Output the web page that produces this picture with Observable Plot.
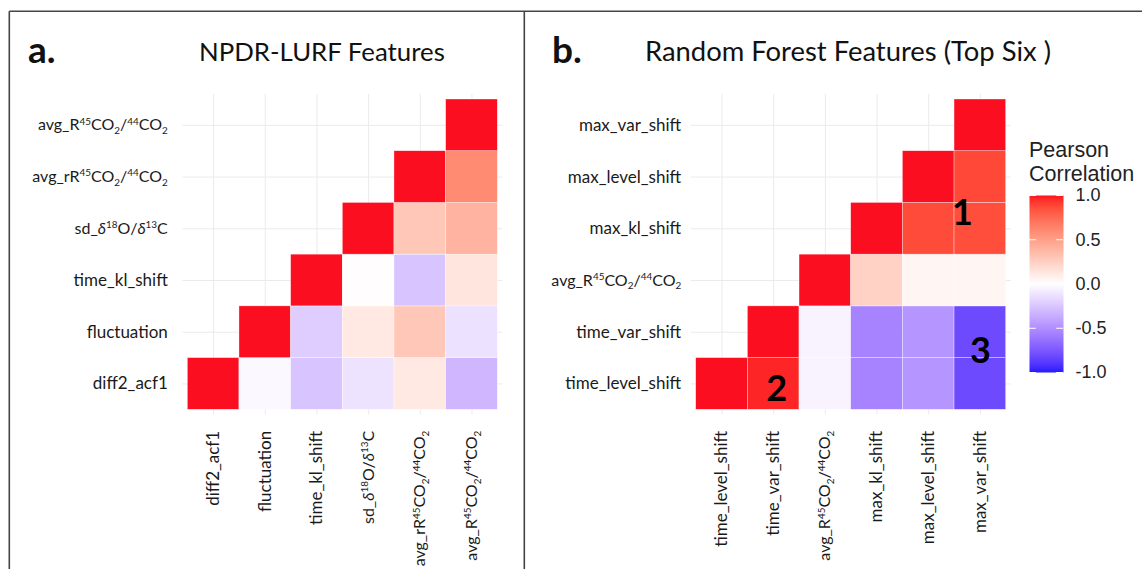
<!DOCTYPE html>
<html>
<head>
<meta charset="utf-8">
<script src="https://cdn.jsdelivr.net/npm/d3@7"></script>
<script src="https://cdn.jsdelivr.net/npm/@observablehq/plot@0.6"></script>
<style>
  html, body { margin: 0; padding: 0; background: #fff; }
  #page { position: relative; width: 1142px; height: 569px; overflow: hidden; background: #fff; }
  .layer { position: absolute; top: 0; }
  .layer svg { overflow: visible; background: transparent; }
  #overlay { position: absolute; left: 0; top: 0; z-index: 2; pointer-events: none; }
</style>
</head>
<body>
<div id="page">
  <div id="panelA" class="layer" style="left:0px;width:524px;"></div>
  <div id="panelB" class="layer" style="left:524px;width:500px;"></div>
  <div id="legend" class="layer" style="left:1000px;top:180px;width:142px;"></div>
  <svg id="overlay" width="1142" height="569" font-family="Lato, 'Open Sans', sans-serif">
    <g stroke="#444" stroke-width="1.6" fill="none">
      <line x1="9.3" y1="11.3" x2="1142" y2="11.3"></line>
      <line x1="9.3" y1="11.3" x2="9.3" y2="569"></line>
      <line x1="524.3" y1="11.3" x2="524.3" y2="569"></line>
    </g>
    <text x="28" y="63" font-size="37" font-weight="bold" fill="#111">a.</text>
    <text x="199" y="61" font-size="25.8" fill="#111">NPDR-LURF Features</text>
    <text x="552" y="63" font-size="37" font-weight="bold" fill="#111">b.</text>
    <text x="645" y="61" font-size="27.4" fill="#111">Random Forest Features (Top Six )</text>
    <g font-family="'Liberation Sans', Arial, sans-serif" font-size="21.5" fill="#222">
      <text x="1029" y="157">Pearson</text>
      <text x="1029" y="181">Correlation</text>
    </g>
  </svg>
</div>
<script>
// Features in axis order: first entry is the left column and the bottom row.
const npdrFeatures = [
  "diff2_acf1",
  "fluctuation",
  "time_kl_shift",
  "sd_δ18O/δ13C",
  "avg_rR45CO2/44CO2",
  "avg_R45CO2/44CO2"
];
// Upper triangle: row i holds the correlations of feature i with features i, i+1, ...
const npdrCorr = [
  [1.00, -0.03, -0.26, -0.12, 0.12, -0.32],
  [1.00, -0.22, 0.12, 0.30, -0.13],
  [1.00, 0.01, -0.26, 0.14],
  [1.00, 0.30, 0.40],
  [1.00, 0.60],
  [1.00]
];

const rfFeatures = [
  "time_level_shift",
  "time_var_shift",
  "avg_R45CO2/44CO2",
  "max_kl_shift",
  "max_level_shift",
  "max_var_shift"
];
const rfCorr = [
  [1.00, 0.97, -0.05, -0.55, -0.47, -0.81],
  [1.00, -0.05, -0.55, -0.47, -0.81],
  [1.00, 0.24, 0.05, 0.05],
  [1.00, 0.87, 0.86],
  [1.00, 0.88],
  [1.00]
];

// Numbered groups of correlated random-forest features
const groupLabels = ["1", "2", "3"];
const groupCols = ["max_var_shift", "time_var_shift", "max_var_shift"];
const groupRows = ["max_kl_shift", "time_level_shift", "time_var_shift"];

const legendTicks = [-1, -0.5, 0, 0.5, 1];

// Tick labels with chemical notation: [text, style] pieces
const richText = new Map([
  ["avg_R45CO2/44CO2", [["avg_R"], ["45", "sup"], ["CO"], ["2", "sub"], ["/"], ["44", "sup"], ["CO"], ["2", "sub"]]],
  ["avg_rR45CO2/44CO2", [["avg_rR"], ["45", "sup"], ["CO"], ["2", "sub"], ["/"], ["44", "sup"], ["CO"], ["2", "sub"]]],
  ["sd_δ18O/δ13C", [["sd_"], ["δ", "it"], ["18", "sup"], ["O/"], ["δ", "it"], ["13", "sup"], ["C"]]]
]);

const colorScale = {
  type: "linear",
  domain: [-1, 0, 1],
  range: ["#1f1bff", "#ffffff", "#fb0e1f"],
  interpolate: "lab",
  clamp: true
};

const tickFont = 17;
const richFont = 16;

function applyRichText(svg) {
  const ns = "http://www.w3.org/2000/svg";
  svg.querySelectorAll("text").forEach((t) => {
    const parts = richText.get(t.textContent);
    if (!parts) return;
    while (t.firstChild) t.removeChild(t.firstChild);
    t.setAttribute("font-size", richFont);
    let shift = 0;
    for (const [s, kind] of parts) {
      const ts = document.createElementNS(ns, "tspan");
      const target = kind === "sup" ? -0.36 * richFont : kind === "sub" ? 0.22 * richFont : 0;
      if (target !== shift) ts.setAttribute("dy", target - shift);
      shift = target;
      if (kind === "sup" || kind === "sub") ts.setAttribute("font-size", 0.62 * richFont);
      if (kind === "it") ts.setAttribute("font-style", "italic");
      ts.textContent = s;
      t.appendChild(ts);
    }
  });
}

function triangleCells(features, corr) {
  const cells = [];
  features.forEach((row, i) => {
    corr[i].forEach((r, k) => cells.push({row, col: features[i + k], r}));
  });
  return cells;
}

function heatmap(features, corr, layout, extraMarks = []) {
  const svg = Plot.plot({
    width: layout.width,
    height: 569,
    marginTop: 94,
    marginBottom: 569 - 414.3,
    marginLeft: layout.marginLeft,
    marginRight: layout.marginRight,
    style: {fontFamily: "Lato, 'Open Sans', sans-serif", fontSize: tickFont + "px", color: "#1a1a1a", background: "transparent", overflow: "visible"},
    x: {type: "band", domain: features, padding: 0, round: false, insetLeft: 5, insetRight: 5, label: null},
    y: {type: "band", domain: features.slice().reverse(), padding: 0, round: false, insetTop: 5, insetBottom: 5, label: null},
    color: colorScale,
    marks: [
      Plot.gridX({stroke: "#ebebeb", strokeOpacity: 1, strokeWidth: 1}),
      Plot.gridY({stroke: "#ebebeb", strokeOpacity: 1, strokeWidth: 1}),
      Plot.cell(triangleCells(features, corr), {
        x: "col", y: "row", fill: "r", inset: 0,
        stroke: "white", strokeWidth: 0.6, strokeOpacity: 0.6
      }),
      Plot.axisX({anchor: "bottom", tickRotate: -90, tickSize: 0, tickPadding: 16, label: null, fontSize: tickFont}),
      Plot.axisY({anchor: "left", tickSize: 0, tickPadding: layout.yPad, label: null, fontSize: tickFont}),
      ...extraMarks
    ]
  });
  applyRichText(svg);
  return svg;
}

// Panel a: NPDR-LURF features
document.getElementById("panelA").appendChild(
  heatmap(npdrFeatures, npdrCorr, {width: 524, marginLeft: 182.3, marginRight: 21.7, yPad: 15})
);

// Panel b: top six random forest features, with numbered groups
const groupText = (i, dx, dy) => Plot.text([groupLabels[i]], {
  x: () => groupCols[i], y: () => groupRows[i], text: (d) => d,
  dx, dy, fontSize: 36, fontWeight: "bold", fill: "#000"
});
document.getElementById("panelB").appendChild(
  heatmap(rfFeatures, rfCorr, {width: 500, marginLeft: 166.7, marginRight: 13.3, yPad: 10}, [
    groupText(0, -18, -15),
    groupText(1, 3, 6),
    groupText(2, 0, 19)
  ])
);

// Colour bar for the shared Pearson correlation scale
const legendSvg = Plot.plot({
  width: 142,
  height: 210,
  marginTop: 15,
  marginBottom: 18,
  marginLeft: 29,
  marginRight: 79,
  style: {fontFamily: "'Liberation Sans', Arial, sans-serif", fontSize: "18px", color: "#222", background: "transparent", overflow: "visible"},
  x: {domain: [0, 1], axis: null},
  y: {domain: [-1, 1], label: null},
  color: colorScale,
  marks: [
    Plot.raster({x1: 0, x2: 1, y1: -1, y2: 1, width: 2, height: 256, fill: (x, y) => y, imageRendering: "auto"}),
    Plot.ruleY(legendTicks, {y: (d) => d, x1: 0, x2: 0.2, stroke: "white", strokeWidth: 1}),
    Plot.ruleY(legendTicks, {y: (d) => d, x1: 0.8, x2: 1, stroke: "white", strokeWidth: 1}),
    Plot.axisY(legendTicks, {anchor: "right", tickSize: 0, tickPadding: 12, label: null, tickFormat: (d) => d.toFixed(1), fontSize: 18})
  ]
});
document.getElementById("legend").appendChild(legendSvg);
</script>
</body>
</html>
